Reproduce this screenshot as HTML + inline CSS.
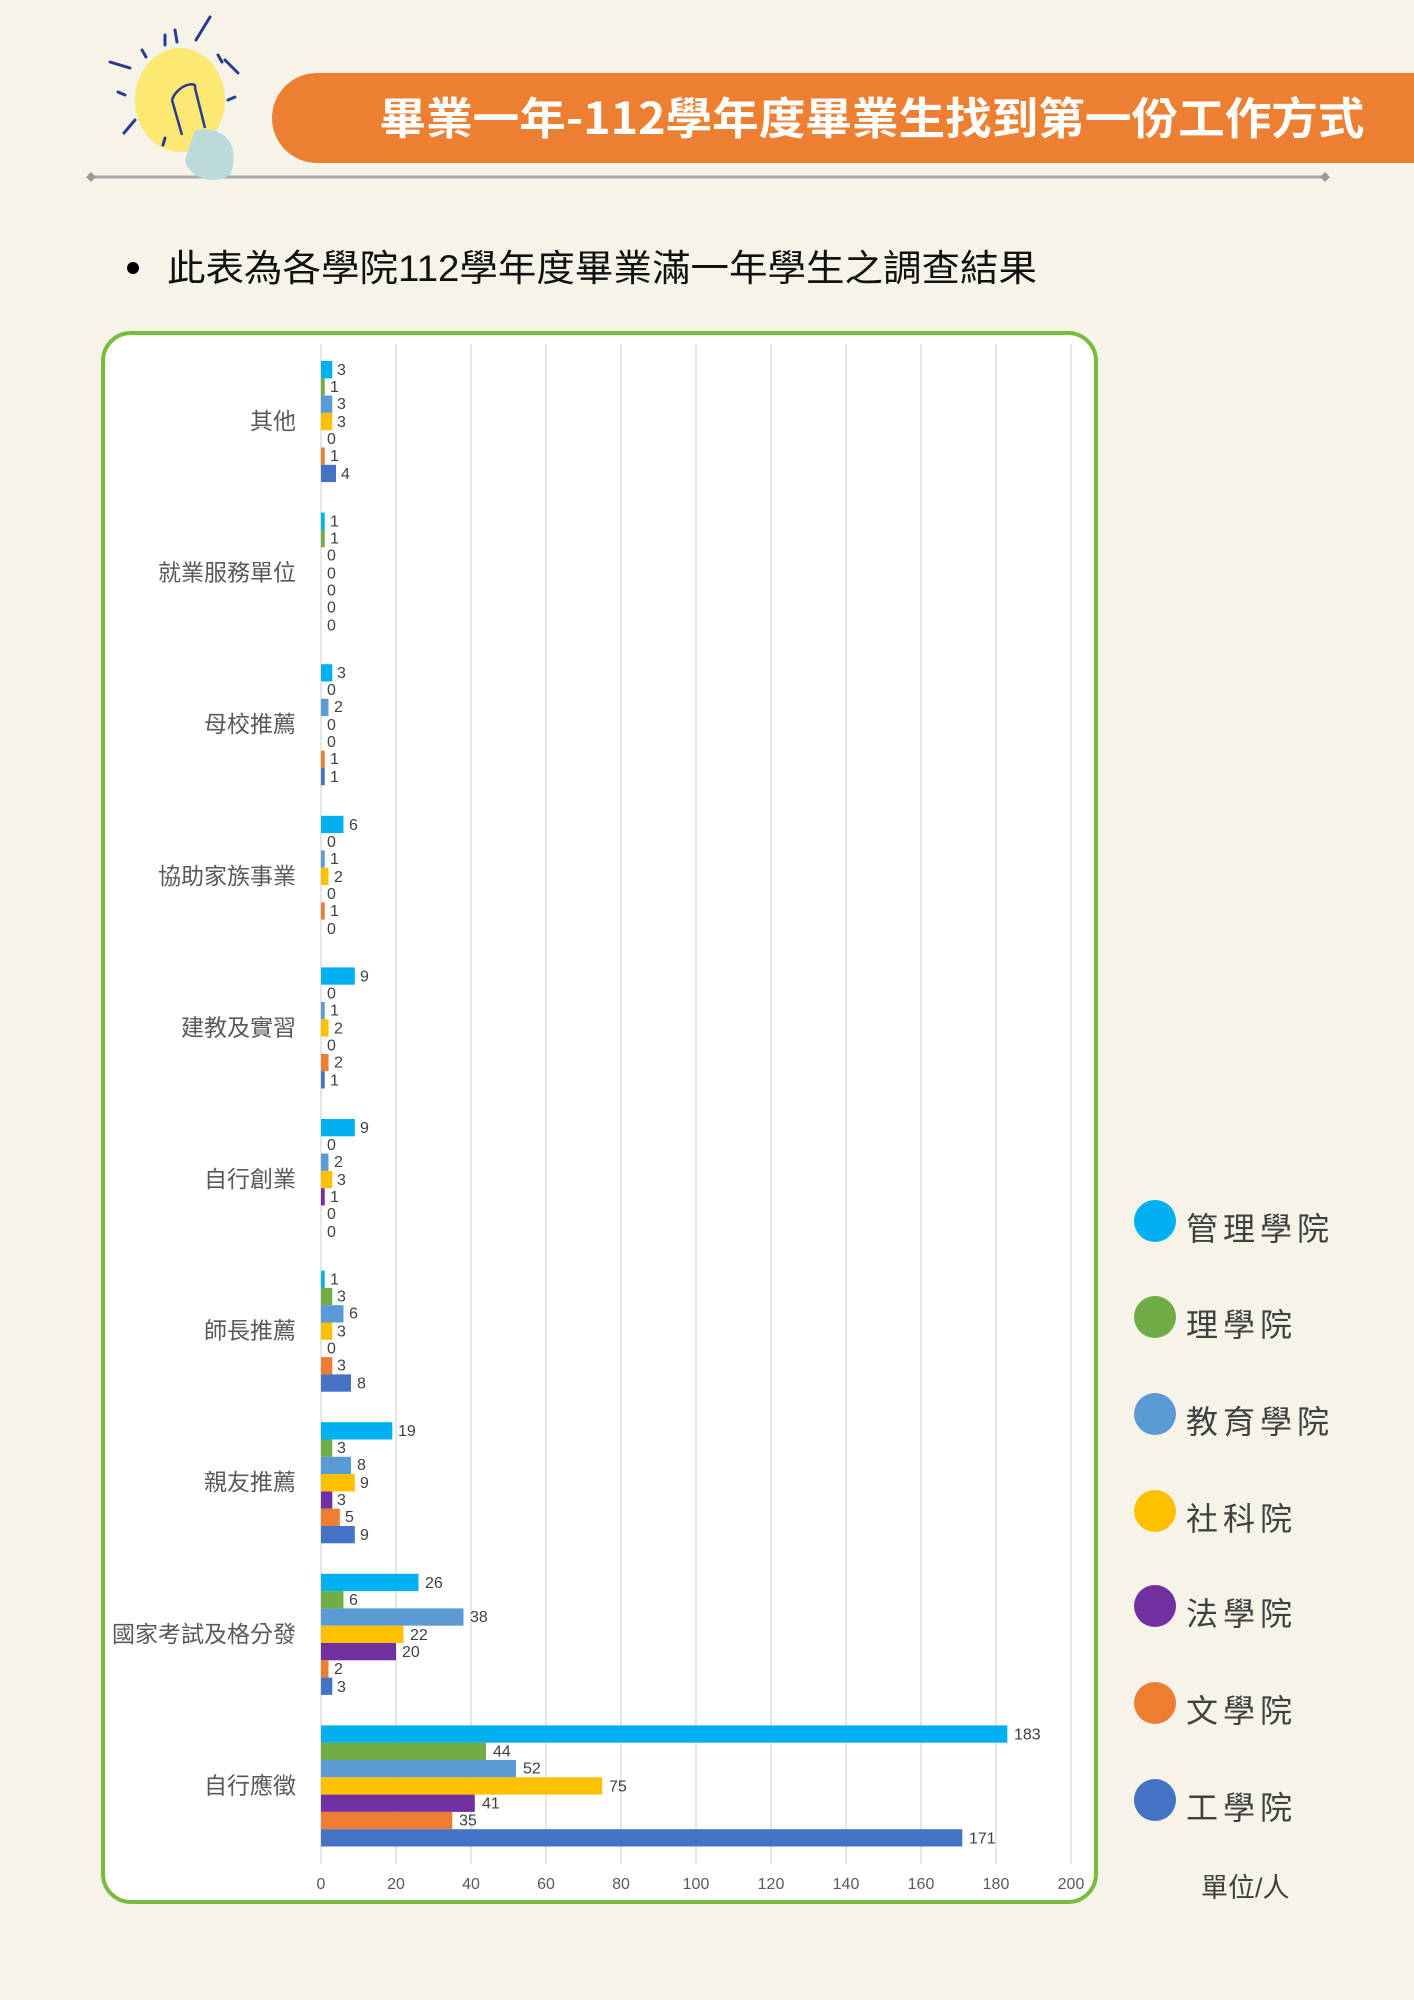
<!DOCTYPE html>
<html><head><meta charset="utf-8"><style>
html,body{margin:0;padding:0;}
body{width:1414px;height:2000px;background:#f6f4e9;position:relative;overflow:hidden;font-family:"Liberation Sans","Noto Sans CJK TC",sans-serif;}
</style></head><body>
<svg width="1414" height="2000" xmlns="http://www.w3.org/2000/svg" style="position:absolute;left:0;top:0">
<path d="M272,118 A45,45 0 0 1 317,73 L1414,73 L1414,163 L317,163 A45,45 0 0 1 272,118 Z" fill="#ed7f32"/>
<text x="872" y="134" text-anchor="middle" font-size="44" font-weight="bold" fill="#fff" font-family="'Noto Sans CJK TC',sans-serif" textLength="985" lengthAdjust="spacingAndGlyphs">畢業一年-112學年度畢業生找到第一份工作方式</text>
<line x1="92" y1="177" x2="1324" y2="177" stroke="#aaa" stroke-width="3"/>
<path d="M86,177 l5,-5 l5,5 l-5,5z M1320,177 l5,-5 l5,5 l-5,5z" fill="#999"/>
<ellipse cx="180" cy="100" rx="45" ry="52" fill="#fde874"/>
<path d="M195,130 C230,125 240,150 230,175 C215,185 190,180 185,160 Z" fill="#bcdadb"/>
<path d="M172,100 l10,35 M195,88 l10,40 M172,100 c5,-15 25,-20 23,-12" stroke="#2b3a8f" stroke-width="2.5" fill="none"/>
<g stroke="#2b3a8f" stroke-width="3" stroke-linecap="round">
<line x1="196" y1="40" x2="210" y2="17"/><line x1="165" y1="35" x2="165" y2="45"/><line x1="175" y1="30" x2="177" y2="42"/>
<line x1="110" y1="62" x2="130" y2="68"/><line x1="142" y1="50" x2="146" y2="57"/><line x1="225" y1="60" x2="238" y2="73"/>
<line x1="218" y1="55" x2="222" y2="62"/><line x1="228" y1="100" x2="235" y2="97"/><line x1="118" y1="92" x2="125" y2="95"/>
<line x1="124" y1="133" x2="135" y2="120"/><line x1="163" y1="145" x2="165" y2="138"/>
</g>
<circle cx="133" cy="268" r="6" fill="#000"/>
<text x="167" y="281" font-size="37" fill="#111" font-family="'Liberation Sans','Noto Sans CJK TC',sans-serif" textLength="870" lengthAdjust="spacingAndGlyphs">此表為各學院112學年度畢業滿一年學生之調查結果</text>
<rect x="103" y="333" width="993" height="1569" rx="28" fill="#fff" stroke="#77bc3c" stroke-width="4"/>
<g stroke="#d9d9d9" stroke-width="1.3">
<line x1="321" y1="344" x2="321" y2="1864"/><line x1="396" y1="344" x2="396" y2="1864"/><line x1="471" y1="344" x2="471" y2="1864"/><line x1="546" y1="344" x2="546" y2="1864"/><line x1="621" y1="344" x2="621" y2="1864"/><line x1="696" y1="344" x2="696" y2="1864"/><line x1="771" y1="344" x2="771" y2="1864"/><line x1="846" y1="344" x2="846" y2="1864"/><line x1="921" y1="344" x2="921" y2="1864"/><line x1="996" y1="344" x2="996" y2="1864"/><line x1="1071" y1="344" x2="1071" y2="1864"/>
</g>
<g font-size="16" fill="#595959" text-anchor="middle">
<text x="321" y="1889">0</text><text x="396" y="1889">20</text><text x="471" y="1889">40</text><text x="546" y="1889">60</text><text x="621" y="1889">80</text><text x="696" y="1889">100</text><text x="771" y="1889">120</text><text x="846" y="1889">140</text><text x="921" y="1889">160</text><text x="996" y="1889">180</text><text x="1071" y="1889">200</text>
</g>
<g font-size="16" fill="#404040">
<g transform="translate(0,361)">
<text x="296" y="68" font-size="23" text-anchor="end" fill="#595959">其他</text>
<rect x="321" y="0" width="11.3" height="17.3" fill="#00b0f0"/><rect x="321" y="17.3" width="3.75" height="17.3" fill="#70ad47"/><rect x="321" y="34.6" width="11.3" height="17.3" fill="#5b9bd5"/><rect x="321" y="51.9" width="11.3" height="17.3" fill="#ffc000"/><rect x="321" y="86.5" width="3.75" height="17.3" fill="#ed7d31"/><rect x="321" y="103.8" width="15" height="17.3" fill="#4472c4"/>
<text x="337" y="14">3</text><text x="330" y="31">1</text><text x="337" y="48">3</text><text x="337" y="66">3</text><text x="327" y="83">0</text><text x="330" y="100">1</text><text x="341" y="118">4</text>
</g>
<g transform="translate(0,512.6)">
<text x="296" y="68" font-size="23" text-anchor="end" fill="#595959">就業服務單位</text>
<rect x="321" y="0" width="3.75" height="17.3" fill="#00b0f0"/><rect x="321" y="17.3" width="3.75" height="17.3" fill="#70ad47"/>
<text x="330" y="14">1</text><text x="330" y="31">1</text><text x="327" y="48">0</text><text x="327" y="66">0</text><text x="327" y="83">0</text><text x="327" y="100">0</text><text x="327" y="118">0</text>
</g>
<g transform="translate(0,664.2)">
<text x="296" y="68" font-size="23" text-anchor="end" fill="#595959">母校推薦</text>
<rect x="321" y="0" width="11.3" height="17.3" fill="#00b0f0"/><rect x="321" y="34.6" width="7.5" height="17.3" fill="#5b9bd5"/><rect x="321" y="86.5" width="3.75" height="17.3" fill="#ed7d31"/><rect x="321" y="103.8" width="3.75" height="17.3" fill="#4472c4"/>
<text x="337" y="14">3</text><text x="327" y="31">0</text><text x="334" y="48">2</text><text x="327" y="66">0</text><text x="327" y="83">0</text><text x="330" y="100">1</text><text x="330" y="118">1</text>
</g>
<g transform="translate(0,815.8)">
<text x="296" y="68" font-size="23" text-anchor="end" fill="#595959">協助家族事業</text>
<rect x="321" y="0" width="22.5" height="17.3" fill="#00b0f0"/><rect x="321" y="34.6" width="3.75" height="17.3" fill="#5b9bd5"/><rect x="321" y="51.9" width="7.5" height="17.3" fill="#ffc000"/><rect x="321" y="86.5" width="3.75" height="17.3" fill="#ed7d31"/>
<text x="349" y="14">6</text><text x="327" y="31">0</text><text x="330" y="48">1</text><text x="334" y="66">2</text><text x="327" y="83">0</text><text x="330" y="100">1</text><text x="327" y="118">0</text>
</g>
<g transform="translate(0,967.4)">
<text x="296" y="68" font-size="23" text-anchor="end" fill="#595959">建教及實習</text>
<rect x="321" y="0" width="33.8" height="17.3" fill="#00b0f0"/><rect x="321" y="34.6" width="3.75" height="17.3" fill="#5b9bd5"/><rect x="321" y="51.9" width="7.5" height="17.3" fill="#ffc000"/><rect x="321" y="86.5" width="7.5" height="17.3" fill="#ed7d31"/><rect x="321" y="103.8" width="3.75" height="17.3" fill="#4472c4"/>
<text x="360" y="14">9</text><text x="327" y="31">0</text><text x="330" y="48">1</text><text x="334" y="66">2</text><text x="327" y="83">0</text><text x="334" y="100">2</text><text x="330" y="118">1</text>
</g>
<g transform="translate(0,1119)">
<text x="296" y="68" font-size="23" text-anchor="end" fill="#595959">自行創業</text>
<rect x="321" y="0" width="33.8" height="17.3" fill="#00b0f0"/><rect x="321" y="34.6" width="7.5" height="17.3" fill="#5b9bd5"/><rect x="321" y="51.9" width="11.3" height="17.3" fill="#ffc000"/><rect x="321" y="69.2" width="3.75" height="17.3" fill="#7030a0"/>
<text x="360" y="14">9</text><text x="327" y="31">0</text><text x="334" y="48">2</text><text x="337" y="66">3</text><text x="330" y="83">1</text><text x="327" y="100">0</text><text x="327" y="118">0</text>
</g>
<g transform="translate(0,1270.6)">
<text x="296" y="68" font-size="23" text-anchor="end" fill="#595959">師長推薦</text>
<rect x="321" y="0" width="3.75" height="17.3" fill="#00b0f0"/><rect x="321" y="17.3" width="11.3" height="17.3" fill="#70ad47"/><rect x="321" y="34.6" width="22.5" height="17.3" fill="#5b9bd5"/><rect x="321" y="51.9" width="11.3" height="17.3" fill="#ffc000"/><rect x="321" y="86.5" width="11.3" height="17.3" fill="#ed7d31"/><rect x="321" y="103.8" width="30" height="17.3" fill="#4472c4"/>
<text x="330" y="14">1</text><text x="337" y="31">3</text><text x="349" y="48">6</text><text x="337" y="66">3</text><text x="327" y="83">0</text><text x="337" y="100">3</text><text x="357" y="118">8</text>
</g>
<g transform="translate(0,1422.2)">
<text x="296" y="68" font-size="23" text-anchor="end" fill="#595959">親友推薦</text>
<rect x="321" y="0" width="71.3" height="17.3" fill="#00b0f0"/><rect x="321" y="17.3" width="11.3" height="17.3" fill="#70ad47"/><rect x="321" y="34.6" width="30" height="17.3" fill="#5b9bd5"/><rect x="321" y="51.9" width="33.8" height="17.3" fill="#ffc000"/><rect x="321" y="69.2" width="11.3" height="17.3" fill="#7030a0"/><rect x="321" y="86.5" width="18.8" height="17.3" fill="#ed7d31"/><rect x="321" y="103.8" width="33.8" height="17.3" fill="#4472c4"/>
<text x="398" y="14">19</text><text x="337" y="31">3</text><text x="357" y="48">8</text><text x="360" y="66">9</text><text x="337" y="83">3</text><text x="345" y="100">5</text><text x="360" y="118">9</text>
</g>
<g transform="translate(0,1573.8)">
<text x="296" y="68" font-size="23" text-anchor="end" fill="#595959">國家考試及格分發</text>
<rect x="321" y="0" width="97.5" height="17.3" fill="#00b0f0"/><rect x="321" y="17.3" width="22.5" height="17.3" fill="#70ad47"/><rect x="321" y="34.6" width="142.5" height="17.3" fill="#5b9bd5"/><rect x="321" y="51.9" width="82.5" height="17.3" fill="#ffc000"/><rect x="321" y="69.2" width="75" height="17.3" fill="#7030a0"/><rect x="321" y="86.5" width="7.5" height="17.3" fill="#ed7d31"/><rect x="321" y="103.8" width="11.3" height="17.3" fill="#4472c4"/>
<text x="425" y="14">26</text><text x="349" y="31">6</text><text x="470" y="48">38</text><text x="410" y="66">22</text><text x="402" y="83">20</text><text x="334" y="100">2</text><text x="337" y="118">3</text>
</g>
<g transform="translate(0,1725.4)">
<text x="296" y="68" font-size="23" text-anchor="end" fill="#595959">自行應徵</text>
<rect x="321" y="0" width="686.3" height="17.3" fill="#00b0f0"/><rect x="321" y="17.3" width="165" height="17.3" fill="#70ad47"/><rect x="321" y="34.6" width="195" height="17.3" fill="#5b9bd5"/><rect x="321" y="51.9" width="281.3" height="17.3" fill="#ffc000"/><rect x="321" y="69.2" width="153.8" height="17.3" fill="#7030a0"/><rect x="321" y="86.5" width="131.3" height="17.3" fill="#ed7d31"/><rect x="321" y="103.8" width="641.3" height="17.3" fill="#4472c4"/>
<text x="1014" y="14">183</text><text x="493" y="31">44</text><text x="523" y="48">52</text><text x="609" y="66">75</text><text x="482" y="83">41</text><text x="459" y="100">35</text><text x="969" y="118">171</text>
</g>
</g>
<g font-size="32" fill="#404040" letter-spacing="5">
<circle cx="1155" cy="1221" r="21" fill="#00b0f0"/><text x="1186" y="1240">管理學院</text>
<circle cx="1155" cy="1317" r="21" fill="#70ad47"/><text x="1186" y="1336">理學院</text>
<circle cx="1155" cy="1414" r="21" fill="#5b9bd5"/><text x="1186" y="1433">教育學院</text>
<circle cx="1155" cy="1511" r="21" fill="#ffc000"/><text x="1186" y="1530">社科院</text>
<circle cx="1155" cy="1606" r="21" fill="#7030a0"/><text x="1186" y="1625">法學院</text>
<circle cx="1155" cy="1703" r="21" fill="#ed7d31"/><text x="1186" y="1722">文學院</text>
<circle cx="1155" cy="1800" r="21" fill="#4472c4"/><text x="1186" y="1819">工學院</text>
</g>
<text x="1201" y="1897" font-size="27" fill="#404040">單位/人</text>
</svg>
</body></html>
